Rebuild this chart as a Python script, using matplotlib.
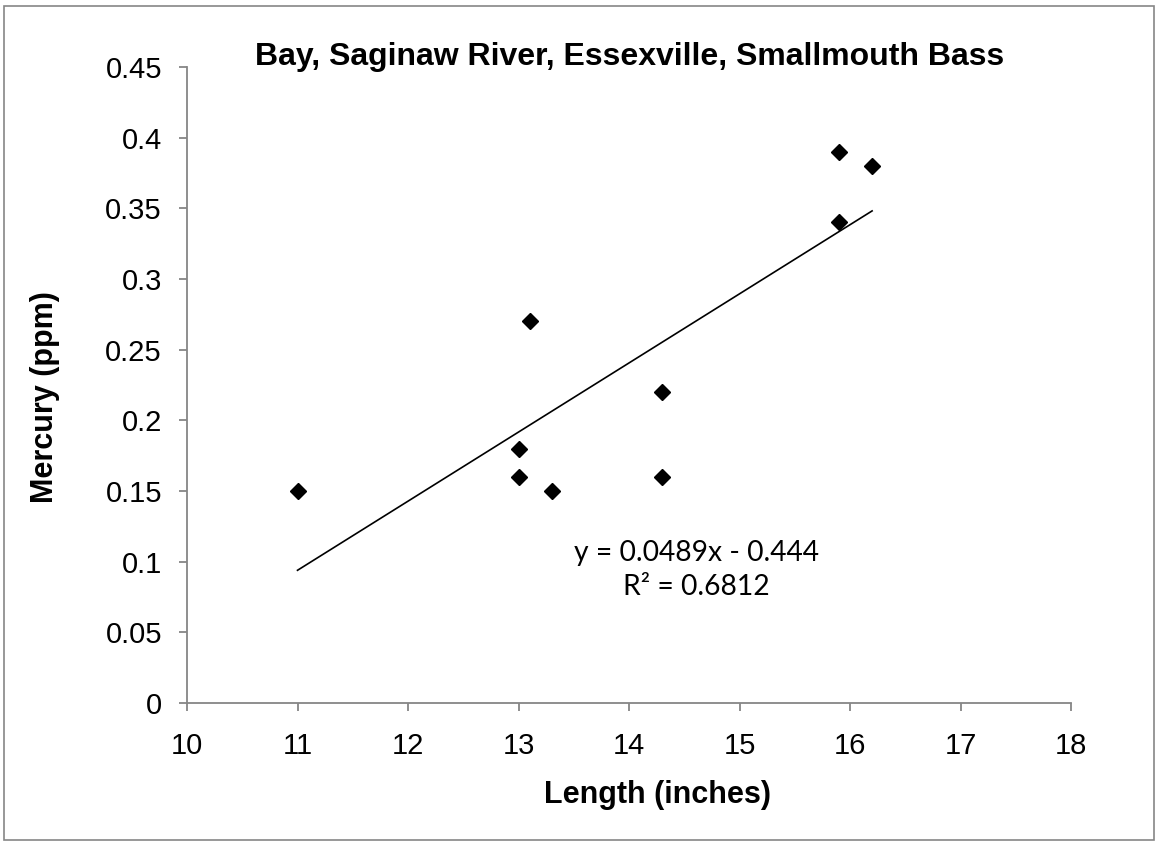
import matplotlib
matplotlib.use('Agg')
import matplotlib.pyplot as plt
import numpy as np
from matplotlib.patches import Rectangle

#fish data
length = [11, 13, 13, 13.1, 13.3, 14.3, 14.3, 15.9, 15.9, 16.2]
mercury = [0.15, 0.18, 0.16, 0.27, 0.15, 0.22, 0.16, 0.39, 0.34, 0.38]
slope = 0.0489
intercept = -0.444
r2 = 0.6812
x_ticks = [10, 11, 12, 13, 14, 15, 16, 17, 18]
y_ticks = [0, 0.05, 0.1, 0.15, 0.2, 0.25, 0.3, 0.35, 0.4, 0.45]
y_labels = ['0', '0.05', '0.1', '0.15', '0.2', '0.25', '0.3', '0.35', '0.4', '0.45']

plt.rcParams['font.family'] = ['Liberation Sans', 'DejaVu Sans']

W, H = 1156, 842
fig = plt.figure(figsize=(W / 100, H / 100), dpi=100)
#axes box in pixels: left 187, right 1071, top 67, bottom 703
ax = fig.add_axes([187 / W, 1 - 703 / H, (1071 - 187) / W, (703 - 67) / H])

#outer chart border like excel
fig.patches.append(Rectangle((4 / W, 2 / H), 1150 / W, 834 / H, transform=fig.transFigure,
                             fill=False, edgecolor='#868686', linewidth=1.2))

ax.plot(length, mercury, 'D', color='black', markersize=8, zorder=3)

#linear trendline over the data range
xt = np.array([min(length), max(length)])
ax.plot(xt, slope * xt + intercept, color='black', linewidth=1.2)

ax.set_xlim(10, 18)
ax.set_ylim(0, 0.45)
ax.set_xticks(x_ticks)
ax.set_yticks(y_ticks)
ax.set_xticklabels([str(t) for t in x_ticks])
ax.set_yticklabels(y_labels)

for s in ['top', 'right']:
    ax.spines[s].set_visible(False)
for s in ['left', 'bottom']:
    ax.spines[s].set_color('#868686')
    ax.spines[s].set_linewidth(1.3)
ax.tick_params(direction='out', length=6, width=1.3, color='#868686', labelsize=21)
ax.tick_params(axis='x', pad=15)
ax.tick_params(axis='y', pad=12)

#title and axis titles placed like the excel chart
fig.text(630 / W, 1 - 57 / H, 'Bay, Saginaw River, Essexville, Smallmouth Bass', fontsize=23,
         fontweight='bold', ha='center', va='center')
fig.text(658 / W, 1 - 795 / H, 'Length (inches)', fontsize=22, fontweight='bold', ha='center', va='center')
fig.text(45 / W, 1 - 397 / H, 'Mercury (ppm)', fontsize=22, fontweight='bold', ha='center', va='center',
         rotation=90)

ax.text(14.61, 0.094, 'y = 0.0489x - 0.444\nR² = 0.6812', fontsize=20.3, family=['Lato', 'DejaVu Sans'],
        ha='center', va='center', linespacing=1.4)

fig.savefig('out.png', dpi=100)
